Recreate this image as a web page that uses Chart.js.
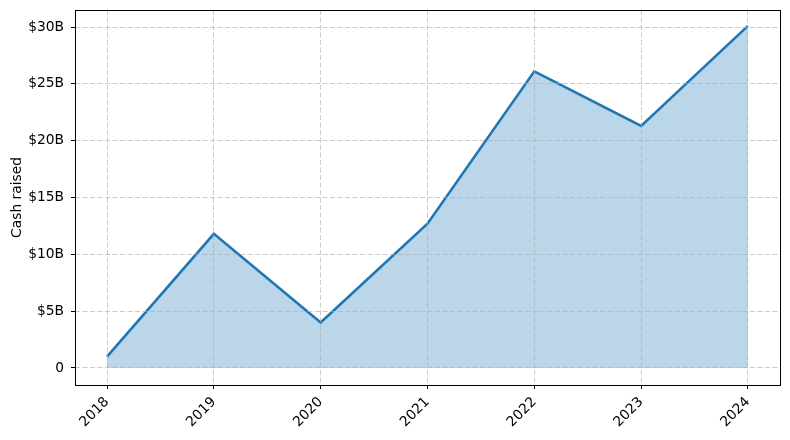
<!DOCTYPE html>
<html>
<head>
<meta charset="utf-8">
<script src="https://cdn.jsdelivr.net/npm/chart.js@4/dist/chart.umd.min.js"></script>
<style>
    html, body { margin: 0; padding: 0; background: #fff; }
    #wrap { width: 790px; height: 440px; }
</style>
</head>
<body>
<div id="wrap"><canvas id="cashChart" width="790" height="440"></canvas></div>
<script>
// data
const years = ['2018', '2019', '2020', '2021', '2022', '2023', '2024'];
const cashRaised = [1.0, 11.8, 4.0, 12.7, 26.1, 21.3, 30.1]; // billions of dollars
const yTicks = [0, 5, 10, 15, 20, 25, 30];

const BLUE = '#1f77b4';
const FONT = 'DejaVu Sans';

Chart.defaults.font.family = FONT;
Chart.defaults.font.size = 13.8;
Chart.defaults.color = '#000';

const points = cashRaised.map((v, i) => ({ x: i, y: v }));

// grid goes over the fill but under the line, like matplotlib
const gridOverFill = {
    id: 'gridOverFill',
    afterDatasetDraw(chart, args) {
        if (args.index !== 0) return;
        chart.scales.x.drawGrid(chart.chartArea);
        chart.scales.y.drawGrid(chart.chartArea);
    }
};

const frame = {
    id: 'frame',
    afterDraw(chart) {
        const { ctx, chartArea: a } = chart;
        ctx.save();
        ctx.setLineDash([]);
        ctx.strokeStyle = '#000';
        ctx.lineWidth = 1;
        ctx.strokeRect(Math.round(a.left) + 0.5, Math.round(a.top) + 0.5,
            Math.round(a.right - a.left), Math.round(a.bottom - a.top));
        ctx.restore();
    }
};

// the tick labels never sit at the ends here, so no extra edge padding
const noEdgePad = (s) => {
    s.paddingTop = 0; s.paddingBottom = 0;
    s.paddingLeft = 0; s.paddingRight = 0;
};

const gridOpts = {
    color: 'rgba(190,190,190,0.55)',
    lineWidth: 1,
    tickColor: '#000',
    tickBorderDash: [],
    tickWidth: 1,
    tickLength: 4
};
// in v4 the dash of the grid lines lives under border
const borderOpts = { display: false, dash: [5, 2.5] };

new Chart(document.getElementById('cashChart'), {
    type: 'line',
    data: {
        datasets: [
            {
                data: points,
                fill: 'origin',
                backgroundColor: 'rgba(31,119,180,0.3)',
                borderWidth: 0,
                pointRadius: 0
            },
            {
                data: points,
                fill: false,
                borderColor: BLUE,
                borderWidth: 2.6,
                pointRadius: 0,
                tension: 0
            }
        ]
    },
    options: {
        responsive: false,
        animation: false,
        layout: { padding: { top: 10, right: 10, left: 0, bottom: 0 } },
        plugins: {
            legend: { display: false },
            tooltip: { enabled: false }
        },
        scales: {
            x: {
                type: 'linear',
                min: -0.3,
                max: 6.3,
                afterBuildTicks: (s) => { s.ticks = years.map((_, i) => ({ value: i })); },
                afterFit: (s) => { s.height = 55; noEdgePad(s); },
                ticks: {
                    callback: (v) => years[v],
                    minRotation: 45,
                    maxRotation: 45,
                    padding: 5
                },
                grid: gridOpts,
                border: borderOpts
            },
            y: {
                min: -1.5,
                max: 31.5,
                afterBuildTicks: (s) => { s.ticks = yTicks.map(v => ({ value: v })); },
                afterFit: (s) => { s.width = 75; noEdgePad(s); },
                ticks: {
                    callback: (v) => v === 0 ? '0' : '$' + v + 'B',
                    padding: 7
                },
                grid: gridOpts,
                border: borderOpts,
                title: {
                    display: true,
                    text: 'Cash raised',
                    font: { size: 13.8 },
                    padding: { top: 9, bottom: 4 }
                }
            }
        }
    },
    plugins: [gridOverFill, frame]
});
</script>
</body>
</html>
